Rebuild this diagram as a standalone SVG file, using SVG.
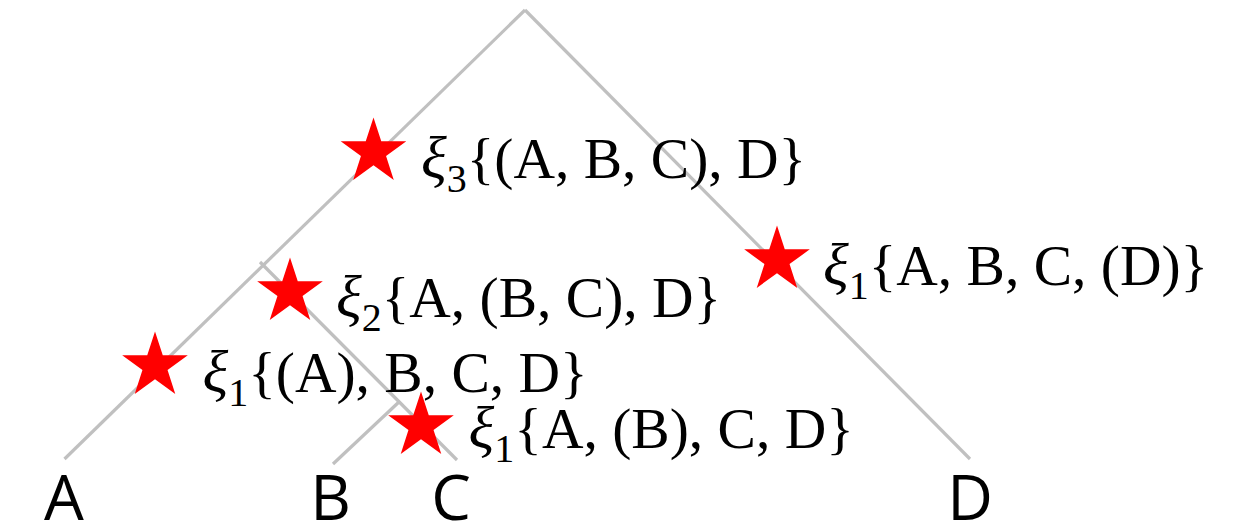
<svg xmlns="http://www.w3.org/2000/svg" width="1236" height="527" viewBox="0 0 1236 527">
<style>
.edge{stroke:#c0c0c0;stroke-width:3.2;fill:none;stroke-linecap:butt}
.star{fill:#ff0000}
.lbl{font-family:"Liberation Serif","DejaVu Serif",serif;font-size:57.5px;fill:#000}
.xi{font-style:italic;font-size:60px}
.sub{font-size:40px}
.leaf{font-family:"Open Sans","Liberation Sans",sans-serif;font-size:63px;fill:#000;text-anchor:middle}
</style>
<defs>
<path id="star" d="M0,-34.5 L7.76,-10.68 L32.81,-10.66 L12.55,4.08 L20.28,27.91 L0,13.2 L-20.28,27.91 L-12.55,4.08 L-32.81,-10.66 L-7.76,-10.68 Z"/>
</defs>
<rect width="1236" height="527" fill="#fff"/>
<g id="connectors">
<line class="edge" x1="525" y1="10" x2="64.5" y2="459"/>
<line class="edge" x1="525" y1="10" x2="970" y2="459"/>
<line class="edge" x1="260" y1="262" x2="457" y2="460"/>
<line class="edge" x1="333" y1="464" x2="400" y2="401"/>
</g>
<g id="mut-xi3">
<use href="#star" class="star" x="373.5" y="152"/>
<text class="lbl" x="421" y="178"><tspan class="xi">ξ</tspan><tspan class="sub" dy="14">3</tspan><tspan dy="-14">{(A, B, C), D}</tspan></text>
</g>
<g id="mut-xi1-D">
<use href="#star" class="star" x="777" y="260"/>
<text class="lbl" x="823" y="285"><tspan class="xi">ξ</tspan><tspan class="sub" dy="14">1</tspan><tspan dy="-14">{A, B, C, (D)}</tspan></text>
</g>
<g id="mut-xi2">
<use href="#star" class="star" x="290" y="292"/>
<text class="lbl" x="336" y="317"><tspan class="xi">ξ</tspan><tspan class="sub" dy="14">2</tspan><tspan dy="-14">{A, (B, C), D}</tspan></text>
</g>
<g id="mut-xi1-A">
<use href="#star" class="star" x="155" y="366"/>
<text class="lbl" x="202.5" y="392"><tspan class="xi">ξ</tspan><tspan class="sub" dy="14">1</tspan><tspan dy="-14">{(A), B, C, D}</tspan></text>
</g>
<g id="mut-xi1-B">
<use href="#star" class="star" x="421" y="426"/>
<text class="lbl" x="468.6" y="448"><tspan class="xi">ξ</tspan><tspan class="sub" dy="14">1</tspan><tspan dy="-14">{A, (B), C, D}</tspan></text>
</g>
<g id="leaf-A"><text class="leaf" x="64" y="520">A</text></g>
<g id="leaf-B"><text class="leaf" x="330.5" y="520">B</text></g>
<g id="leaf-C"><text class="leaf" x="451" y="520">C</text></g>
<g id="leaf-D"><text class="leaf" x="970" y="520">D</text></g>
</svg>
